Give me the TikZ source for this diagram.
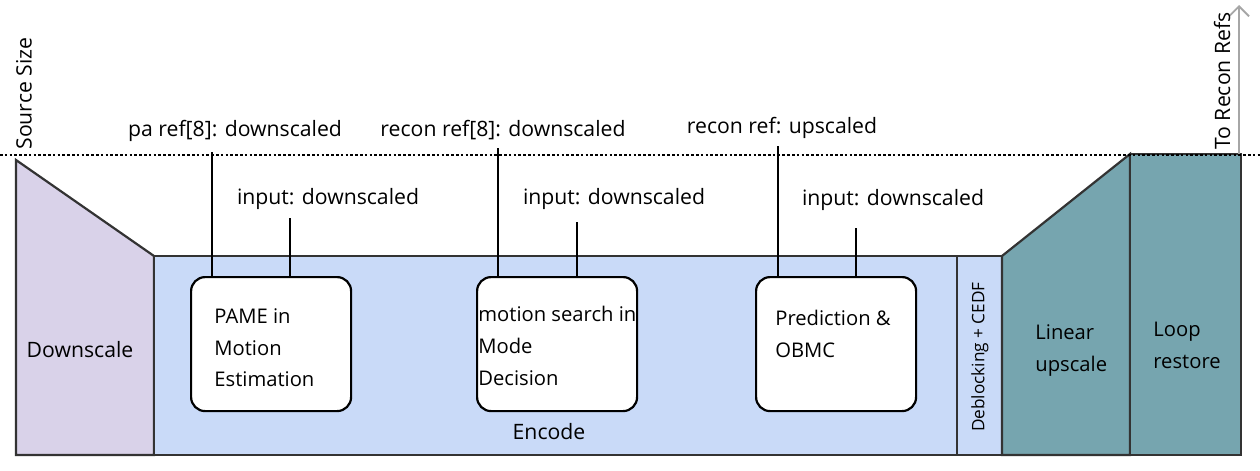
\documentclass[tikz,border=0pt]{standalone}
\usepackage{fontspec}
\setmainfont{Open Sans}
\usetikzlibrary{arrows.meta}

\definecolor{dscol}{HTML}{D9D2E9}
\definecolor{enccol}{HTML}{C9DAF8}
\definecolor{upcol}{HTML}{76A5AF}
\definecolor{edgecol}{HTML}{333333}

\tikzset{
  stage/.style={draw=edgecol, line width=1.1pt},
  toolbox/.style={draw=black, line width=1.1pt, fill=white, rounded corners=7pt},
  boxtext/.style={anchor=north west, align=left, inner sep=0pt, font=\fontsize{10.1}{15.9}\selectfont},
  lbl/.style={font=\fontsize{10.6}{12}\selectfont, inner sep=0pt},
  feed/.style={line width=1.1pt, draw=black}
}

\begin{document}
\begin{tikzpicture}[x=0.5pt, y=-0.5pt]
    \useasboundingbox (0,0) rectangle (1260,471);

    % stages
    \draw[stage, fill=dscol] (16,160) -- (154,256) -- (154,455) -- (16,455) -- cycle;
    \draw[stage, fill=enccol] (154,256) rectangle (957,455);
    \draw[stage, fill=enccol] (957,256) rectangle (1002,455);
    \draw[stage, fill=upcol] (1002,256) -- (1130,154) -- (1130,455) -- (1002,455) -- cycle;
    \draw[stage, fill=upcol] (1130,154) rectangle (1241,455);

    % size line and output arrow
    \draw[line width=1.3pt, dash pattern=on 1.3pt off 1.1pt] (0,155) -- (1260,155);
    \coordinate (outbase) at (1239,154);
    \coordinate (outtip) at (1239,5);
    \draw[-{Straight Barb[length=5pt]}, gray!70, line width=0.9pt] (outbase) -- (outtip);

    % tool boxes
    \node[toolbox, minimum width=80pt, minimum height=67pt, anchor=north west] (pame) at (190,276) {};
    \node[toolbox, minimum width=80pt, minimum height=67pt, anchor=north west] (mode) at (476,276) {};
    \node[toolbox, minimum width=80pt, minimum height=67pt, anchor=north west] (pred) at (755,276) {};

    \node[boxtext] (pametxt) at (214,308) {PAME in\\Motion\\Estimation};
    \node[boxtext] (modetxt) at (478,306) {motion search in\\Mode\\Decision};
    \node[boxtext] (predtxt) at (775,310) {Prediction \&\\OBMC};

    % stage labels
    \node[lbl] (dslbl) at (80,350) {Downscale};
    \node[lbl] (enclbl) at (549,432) {Encode};
    \node[lbl, rotate=90, font=\fontsize{8.6}{10}\selectfont] (dblbl) at (980,357) {Deblocking + CEDF};
    \node[boxtext] (uplbl) at (1035,324) {Linear\\upscale};
    \node[boxtext] (lrlbl) at (1153,322) {Loop\\restore};
    \node[lbl, rotate=90, anchor=west] (srclbl) at (24,150) {Source Size};
    \node[lbl, rotate=90, anchor=west] (outlbl) at (1222,150) {To Recon Refs};

    % inputs
    \node[lbl] (paref) at (235,131) {pa ref[8]: downscaled};
    \node[lbl] (pain) at (328,199) {input: downscaled};
    \node[lbl] (rcref) at (503,130) {recon ref[8]: downscaled};
    \node[lbl] (rcin) at (614,199) {input: downscaled};
    \node[lbl] (upref) at (782,128) {recon ref: upscaled};
    \node[lbl] (upin) at (893,200) {input: downscaled};

    \coordinate (pa1) at (212,152);
    \coordinate (pa2) at (290,218);
    \coordinate (rc1) at (498,148);
    \coordinate (rc2) at (577,222);
    \coordinate (up1) at (778,146);
    \coordinate (up2) at (856,228);

    \draw[feed] (pa1) -- (pa1 |- pame.north);
    \draw[feed] (pa2) -- (pa2 |- pame.north);
    \draw[feed] (rc1) -- (rc1 |- mode.north);
    \draw[feed] (rc2) -- (rc2 |- mode.north);
    \draw[feed] (up1) -- (up1 |- pred.north);
    \draw[feed] (up2) -- (up2 |- pred.north);
\end{tikzpicture}
\end{document}
